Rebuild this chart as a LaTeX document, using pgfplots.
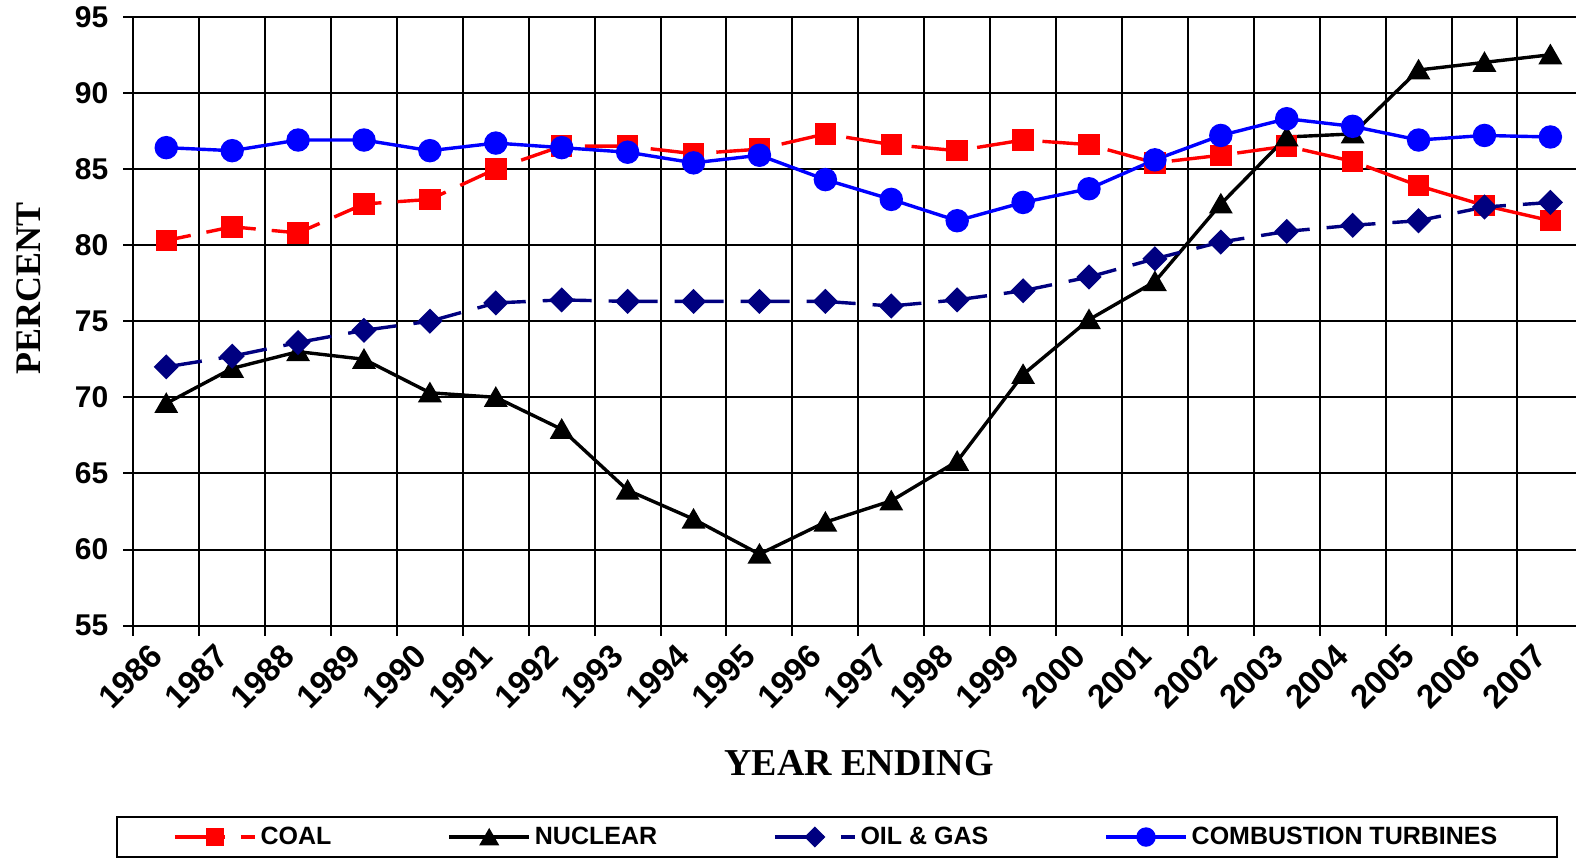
\documentclass[border=0pt]{standalone}
\usepackage{pgfplots}
\pgfplotsset{compat=1.18}
\usepackage{fontspec}
\setmainfont{Liberation Sans}
\newfontfamily\serifbold{Liberation Serif}
\definecolor{cRed}{RGB}{255,0,0}
\definecolor{cNavy}{RGB}{0,0,128}
\definecolor{cBlue}{RGB}{0,0,255}
\begin{document}
\begin{tikzpicture}
\begin{axis}[
  width=725pt, height=304.5pt, scale only axis,
  xmin=-0.5, xmax=21.5, ymin=55, ymax=95,
  xtick={0,...,21},
  xticklabels={1986,1987,1988,1989,1990,1991,1992,1993,1994,1995,1996,1997,1998,1999,2000,2001,2002,2003,2004,2005,2006,2007},
  minor xtick={-0.5,0.5,...,21.5},
  xminorgrids,
  ytick={55,60,...,95},
  ymajorgrids,
  tick align=outside,
  xtick pos=bottom, ytick pos=left,
  major tick length=5pt, minor tick length=5pt,
  major x tick style={draw=none},
  minor x tick style={black, line width=1pt},
  major y tick style={black, line width=1pt},
  major grid style={black, line width=1pt},
  minor grid style={black, line width=1pt},
  axis line style={black, line width=1pt},
  /pgf/number format/assume math mode=true,
  yticklabel style={font=\bfseries\fontsize{15}{15}\selectfont, inner xsep=0pt, xshift=-7.3pt},
  xticklabel style={font=\bfseries\fontsize{16.5}{16.5}\selectfont, inner sep=0pt, xshift=-9pt, yshift=-3pt, rotate=45, anchor=north east},
  xlabel={YEAR ENDING},
  ylabel={PERCENT},
  every axis x label/.style={at={(axis description cs:0.5005,-0.2255)}, anchor=center, font=\serifbold\bfseries\fontsize{19}{19}\selectfont},
  every axis y label/.style={at={(axis description cs:-0.0723,0.5545)}, anchor=center, rotate=90, font=\serifbold\bfseries\fontsize{18}{18}\selectfont},
  legend columns=4,
  legend cell align=left,
  legend style={at={(axis description cs:0.4855,-0.347)}, anchor=center,
    draw=black, line width=1pt, inner xsep=28pt, inner ysep=3pt,
    font=\bfseries\fontsize{12.5}{12.5}\selectfont,
    /tikz/every even column/.append style={column sep=56pt}},
  legend image code/.code={\draw[mark repeat=2,mark phase=2,#1,dash phase=0pt,every mark/.append style={scale=0.8}] plot coordinates {(0pt,0pt) (20pt,0pt) (40pt,0pt)};},
]
\addplot[cRed, line width=1.7pt, dash pattern=on 25pt off 8pt, dash phase=12.5pt, mark=square*, mark size=4.5pt, mark options={solid}] coordinates {
(0,80.3) (1,81.2) (2,80.8) (3,82.7) (4,83.0) (5,85.0) (6,86.5) (7,86.5) (8,86.0) (9,86.3) (10,87.3)
(11,86.6) (12,86.2) (13,86.9) (14,86.6) (15,85.4) (16,85.9) (17,86.5) (18,85.5) (19,83.9) (20,82.6) (21,81.6)};
\addlegendentry{COAL}
\addplot[black, line width=1.7pt, mark=triangle*, mark size=5.2pt, mark options={solid, yshift=-1.3pt}] coordinates {
(0,69.6) (1,71.9) (2,73.0) (3,72.5) (4,70.3) (5,70.0) (6,67.9) (7,63.9) (8,62.0) (9,59.7) (10,61.8)
(11,63.2) (12,65.8) (13,71.5) (14,75.1) (15,77.6) (16,82.7) (17,87.1) (18,87.3) (19,91.5) (20,92.0) (21,92.5)};
\addlegendentry{NUCLEAR}
\addplot[cNavy, line width=1.7pt, dash pattern=on 24.5pt off 8.5pt, dash phase=6.5pt, mark=square*, mark size=3.6pt, mark options={solid, rotate=45}] coordinates {
(0,72.0) (1,72.7) (2,73.6) (3,74.4) (4,75.0) (5,76.2) (6,76.4) (7,76.3) (8,76.3) (9,76.3) (10,76.3)
(11,76.0) (12,76.4) (13,77.0) (14,77.9) (15,79.1) (16,80.2) (17,80.9) (18,81.3) (19,81.6) (20,82.5) (21,82.8)};
\addlegendentry{OIL \& GAS}
\addplot[cBlue, line width=1.7pt, mark=*, mark size=5pt, mark options={solid}] coordinates {
(0,86.4) (1,86.2) (2,86.9) (3,86.9) (4,86.2) (5,86.7) (6,86.4) (7,86.1) (8,85.4) (9,85.9) (10,84.3)
(11,83.0) (12,81.6) (13,82.8) (14,83.7) (15,85.6) (16,87.2) (17,88.3) (18,87.8) (19,86.9) (20,87.2) (21,87.1)};
\addlegendentry{COMBUSTION TURBINES}
\coordinate (bbSW) at (rel axis cs:-0.09193,-0.3831);
\coordinate (bbNE) at (rel axis cs:0.99497,1.02742);
\end{axis}
\pgfresetboundingbox
\path[use as bounding box] (bbSW) rectangle (bbNE);
\end{tikzpicture}
\end{document}
